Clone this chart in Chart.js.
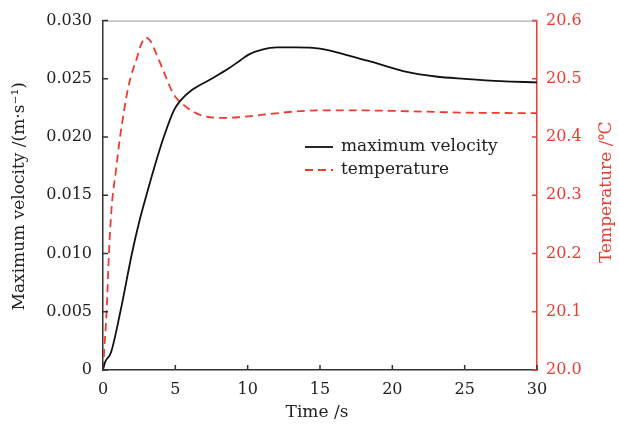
<!DOCTYPE html>
<html><head><meta charset="utf-8">
<script src="https://cdn.jsdelivr.net/npm/chart.js@4"></script>
<style>html,body{margin:0;padding:0;background:#fff;}#wrap{width:619px;height:429px;}</style>
</head><body><div id="wrap"><canvas id="c" width="619" height="429"></canvas></div>
<script>
const velocityTime = [0, 0.15, 0.55, 1.2, 2.0, 2.5, 3.0, 3.5, 4.2, 4.9, 5.4, 6.1, 7.5, 8.7, 9.5, 10.1, 11.0, 12.0, 13.3, 15, 17, 19, 21, 23, 25, 27.5, 30];
const velocity = [0, 0.0007, 0.0015, 0.0050, 0.0100, 0.0127, 0.0150, 0.0172, 0.0200, 0.0223, 0.0232, 0.0240, 0.0250, 0.0259, 0.0266, 0.0271, 0.0275, 0.0277, 0.0277, 0.0276, 0.0270, 0.0263, 0.0256, 0.0252, 0.0250, 0.0248, 0.0247];
const tempTime = [0, 0.1, 0.25, 0.41, 0.6, 0.88, 1.18, 1.75, 2.33, 2.65, 2.95, 3.25, 3.6, 4.17, 4.87, 5.79, 6.83, 8.2, 9.35, 10.95, 13.3, 15, 17, 20, 25, 30];
const temperature = [20.0, 20.04, 20.1, 20.2, 20.28, 20.34, 20.40, 20.486, 20.535, 20.560, 20.571, 20.566, 20.548, 20.514, 20.474, 20.451, 20.437, 20.433, 20.434, 20.438, 20.444, 20.446, 20.446, 20.445, 20.442, 20.441];
const xTicks = [0, 5, 10, 15, 20, 25, 30];
const vTicks = ['0', '0.005', '0.010', '0.015', '0.020', '0.025', '0.030'];
const tTicks = ['20.0', '20.1', '20.2', '20.3', '20.4', '20.5', '20.6'];
const labels = ['maximum velocity', 'temperature'];
const titles = {x: 'Time /s', y: 'Maximum velocity /(m\u00b7s\u207b\u00b9)', y1: 'Temperature /\u2103'};

const RED = '#ee3b30';
const DARK = '#222';
const FONT = 'DejaVu Serif';

const extras = {
  id: 'extras',
  afterDraw(chart) {
    const ctx = chart.ctx, a = chart.chartArea;
    const sx = chart.scales.x, sy = chart.scales.y, sy1 = chart.scales.y1;
    ctx.save();
    ctx.strokeStyle = '#999'; ctx.lineWidth = 1;
    ctx.beginPath(); ctx.moveTo(a.left, a.top + 0.5); ctx.lineTo(a.right, a.top + 0.5); ctx.stroke();
    ctx.lineWidth = 1.5;
    ctx.strokeStyle = '#333';
    ctx.beginPath();
    sx.ticks.forEach(t => { const p = sx.getPixelForValue(t.value); ctx.moveTo(p, a.bottom); ctx.lineTo(p, a.bottom - 5); });
    sy.ticks.forEach(t => { const p = sy.getPixelForValue(t.value); ctx.moveTo(a.left, p); ctx.lineTo(a.left + 5, p); });
    ctx.stroke();
    ctx.strokeStyle = RED;
    ctx.beginPath();
    sy1.ticks.forEach(t => { const p = sy1.getPixelForValue(t.value); ctx.moveTo(a.right, p); ctx.lineTo(a.right - 5, p); });
    ctx.stroke();
    ctx.font = '17px "' + FONT + '"';
    ctx.textAlign = 'center'; ctx.textBaseline = 'middle';
    ctx.fillStyle = DARK;
    ctx.fillText(titles.x, (a.left + a.right) / 2 - 3, 413);
    ctx.save(); ctx.translate(20, (a.top + a.bottom) / 2 + 1); ctx.rotate(-Math.PI / 2); ctx.fillText(titles.y, 0, 0); ctx.restore();
    ctx.fillStyle = RED;
    ctx.save(); ctx.translate(607, (a.top + a.bottom) / 2 - 3); ctx.rotate(-Math.PI / 2); ctx.fillText(titles.y1, 0, 0); ctx.restore();
    const ds = chart.data.datasets;
    const lx = 305, ly = [147, 170];
    ds.forEach((d, i) => {
      ctx.strokeStyle = d.borderColor; ctx.lineWidth = d.borderWidth;
      ctx.setLineDash(d.borderDash || []);
      ctx.beginPath(); ctx.moveTo(lx, ly[i]); ctx.lineTo(lx + 28, ly[i]); ctx.stroke();
      ctx.setLineDash([]);
      ctx.fillStyle = DARK; ctx.textAlign = 'left'; ctx.textBaseline = 'middle';
      ctx.fillText(d.label, lx + 36, ly[i]);
    });
    ctx.restore();
  }
};

new Chart(document.getElementById('c'), {
  type: 'line',
  data: {
    datasets: [
      { label: labels[0], data: velocityTime.map((t, i) => ({x: t, y: velocity[i]})), yAxisID: 'y',
        borderColor: '#111', borderWidth: 1.8, pointRadius: 0, cubicInterpolationMode: 'monotone', fill: false },
      { label: labels[1], data: tempTime.map((t, i) => ({x: t, y: temperature[i]})), yAxisID: 'y1',
        borderColor: RED, borderWidth: 1.8, borderDash: [8, 5], pointRadius: 0, cubicInterpolationMode: 'monotone', fill: false }
    ]
  },
  options: {
    responsive: false, animation: false, devicePixelRatio: 1,
    layout: { padding: { top: 20, left: 0, right: 0, bottom: 0 } },
    plugins: { legend: { display: false }, tooltip: { enabled: false } },
    scales: {
      x: {
        type: 'linear', min: 0, max: 30,
        afterBuildTicks: s => { s.ticks = xTicks.map(v => ({value: v})); },
        afterFit: s => { s.height = 59; },
        ticks: { color: DARK, font: { family: FONT, size: 16 }, padding: 10, maxRotation: 0, callback: v => String(v) },
        grid: { display: false, drawTicks: false },
        border: { display: true, color: '#333', width: 1.5 }
      },
      y: {
        position: 'left', min: 0, max: 0.03,
        afterBuildTicks: s => { s.ticks = vTicks.map(v => ({value: parseFloat(v)})); },
        afterFit: s => { s.width = 103; },
        ticks: { color: DARK, font: { family: FONT, size: 16 }, padding: 11, callback: (v, i) => vTicks[i] },
        grid: { display: false, drawTicks: false },
        border: { display: true, color: '#333', width: 1.5 }
      },
      y1: {
        position: 'right', min: 20, max: 20.6,
        afterBuildTicks: s => { s.ticks = tTicks.map(v => ({value: parseFloat(v)})); },
        afterFit: s => { s.width = 82; },
        ticks: { color: RED, font: { family: FONT, size: 16 }, padding: 9, callback: (v, i) => tTicks[i] },
        grid: { display: false, drawTicks: false },
        border: { display: true, color: RED, width: 1.5 }
      }
    }
  },
  plugins: [extras]
});
</script>
</body></html>
